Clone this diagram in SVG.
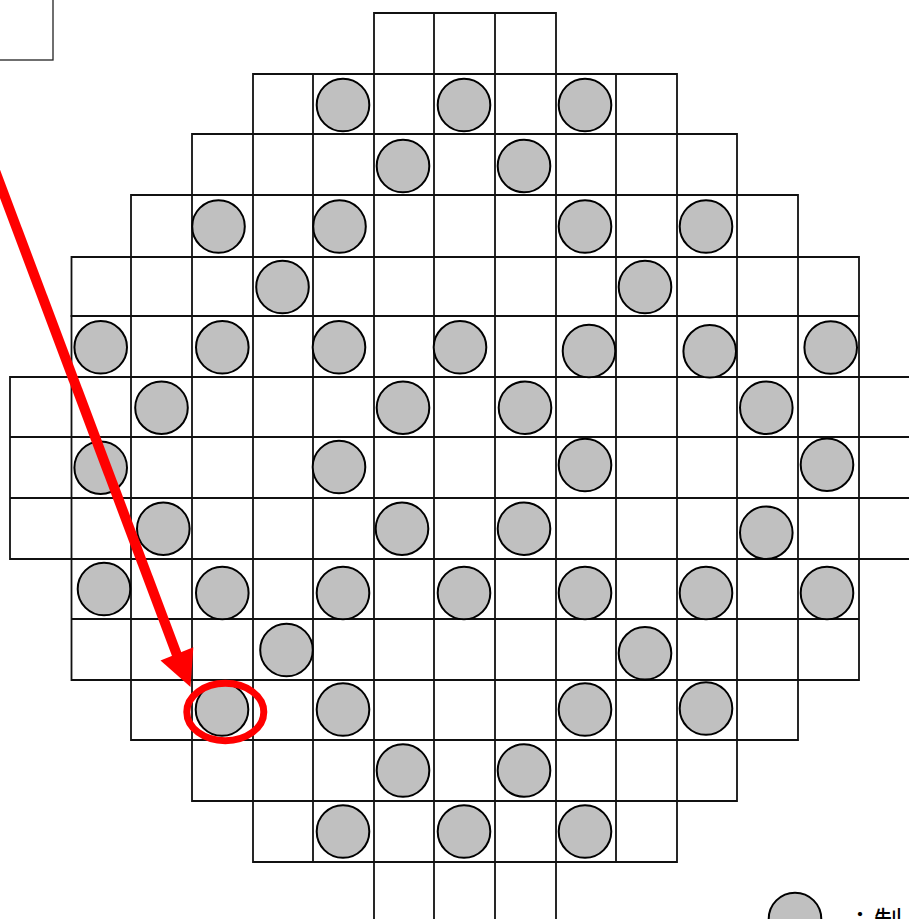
<svg xmlns="http://www.w3.org/2000/svg" width="909" height="919" viewBox="0 0 909 919">
<style>
.g{fill:none;stroke:#111;stroke-width:1.8}
.c{fill:#c0c0c0;stroke:#000;stroke-width:2}
.box{fill:none;stroke:#222;stroke-width:1.3}
.red{fill:none;stroke:#ff0000}
.t{font-family:"Noto Sans CJK JP","Liberation Serif",serif;font-size:28px;fill:#000}
</style>
<rect width="909" height="919" fill="#fff"/>
<g id="label-box"><rect class="box" x="-10" y="-10" width="63" height="70"/></g>
<g id="grid">
<path class="g" d="M374 13H556V74H374Z M434 13V74 M495 13V74"/>
<path class="g" d="M253 74H677V134H253Z M313 74V134 M374 74V134 M434 74V134 M495 74V134 M556 74V134 M616 74V134"/>
<path class="g" d="M192 134H737V195H192Z M253 134V195 M313 134V195 M374 134V195 M434 134V195 M495 134V195 M556 134V195 M616 134V195 M677 134V195"/>
<path class="g" d="M131 195H798V257H131Z M192 195V257 M253 195V257 M313 195V257 M374 195V257 M434 195V257 M495 195V257 M556 195V257 M616 195V257 M677 195V257 M737 195V257"/>
<path class="g" d="M71.5 257H859V316H71.5Z M131 257V316 M192 257V316 M253 257V316 M313 257V316 M374 257V316 M434 257V316 M495 257V316 M556 257V316 M616 257V316 M677 257V316 M737 257V316 M798 257V316"/>
<path class="g" d="M71.5 316H859V377H71.5Z M131 316V377 M192 316V377 M253 316V377 M313 316V377 M374 316V377 M434 316V377 M495 316V377 M556 316V377 M616 316V377 M677 316V377 M737 316V377 M798 316V377"/>
<path class="g" d="M10 377H930V559H10Z M10 437H930 M10 498H930 M71.5 377V559 M131 377V559 M192 377V559 M253 377V559 M313 377V559 M374 377V559 M434 377V559 M495 377V559 M556 377V559 M616 377V559 M677 377V559 M737 377V559 M798 377V559 M859 377V559"/>
<path class="g" d="M71.5 559H859V680H71.5Z M71.5 619H859 M131 559V680 M192 559V680 M253 559V680 M313 559V680 M374 559V680 M434 559V680 M495 559V680 M556 559V680 M616 559V680 M677 559V680 M737 559V680 M798 559V680"/>
<path class="g" d="M131 680H798V740H131Z M192 680V740 M253 680V740 M313 680V740 M374 680V740 M434 680V740 M495 680V740 M556 680V740 M616 680V740 M677 680V740 M737 680V740"/>
<path class="g" d="M192 740H737V801H192Z M253 740V801 M313 740V801 M374 740V801 M434 740V801 M495 740V801 M556 740V801 M616 740V801 M677 740V801"/>
<path class="g" d="M253 801H677V862H253Z M313 801V862 M374 801V862 M434 801V862 M495 801V862 M556 801V862 M616 801V862"/>
<path class="g" d="M374 862V930 M434 862V930 M495 862V930 M556 862V930"/>
</g>
<g id="rods">
<circle class="c" cx="343" cy="105" r="26.3"/><circle class="c" cx="464" cy="105" r="26.3"/><circle class="c" cx="585" cy="105" r="26.3"/>
<circle class="c" cx="403" cy="166" r="26.3"/><circle class="c" cx="524" cy="166" r="26.3"/>
<circle class="c" cx="218.5" cy="226.5" r="26.3"/><circle class="c" cx="339.5" cy="226.5" r="26.3"/><circle class="c" cx="585" cy="226.5" r="26.3"/><circle class="c" cx="706" cy="226.5" r="26.3"/>
<circle class="c" cx="282.5" cy="287" r="26.3"/><circle class="c" cx="645" cy="287" r="26.3"/>
<circle class="c" cx="100.7" cy="347.3" r="26.3"/><circle class="c" cx="222.3" cy="347.3" r="26.3"/><circle class="c" cx="339" cy="347.3" r="26.3"/><circle class="c" cx="460" cy="347.3" r="26.3"/><circle class="c" cx="589" cy="351" r="26.3"/><circle class="c" cx="709.7" cy="351.3" r="26.3"/><circle class="c" cx="830.7" cy="347.5" r="26.3"/>
<circle class="c" cx="161.5" cy="407.7" r="26.3"/><circle class="c" cx="403" cy="407.7" r="26.3"/><circle class="c" cx="525" cy="407.7" r="26.3"/><circle class="c" cx="766.3" cy="407.7" r="26.3"/>
<circle class="c" cx="100.7" cy="467.7" r="26.3"/><circle class="c" cx="339" cy="467" r="26.3"/><circle class="c" cx="585" cy="465" r="26.3"/><circle class="c" cx="827" cy="464.7" r="26.3"/>
<circle class="c" cx="163.3" cy="528.7" r="26.3"/><circle class="c" cx="402" cy="528.7" r="26.3"/><circle class="c" cx="524" cy="528.7" r="26.3"/><circle class="c" cx="766.3" cy="532.7" r="26.3"/>
<circle class="c" cx="104" cy="589" r="26.3"/><circle class="c" cx="222.3" cy="593" r="26.3"/><circle class="c" cx="343" cy="593" r="26.3"/><circle class="c" cx="464" cy="593" r="26.3"/><circle class="c" cx="585" cy="593" r="26.3"/><circle class="c" cx="706" cy="593" r="26.3"/><circle class="c" cx="827" cy="593" r="26.3"/>
<circle class="c" cx="286.5" cy="650" r="26.3"/><circle class="c" cx="645" cy="653.3" r="26.3"/>
<circle class="c" cx="222" cy="709.5" r="26.3"/><circle class="c" cx="343" cy="709.5" r="26.3"/><circle class="c" cx="585" cy="709.5" r="26.3"/><circle class="c" cx="706" cy="708.5" r="26.3"/>
<circle class="c" cx="403" cy="770.5" r="26.3"/><circle class="c" cx="524" cy="770.5" r="26.3"/>
<circle class="c" cx="343" cy="831.5" r="26.3"/><circle class="c" cx="464" cy="831.5" r="26.3"/><circle class="c" cx="585" cy="831.5" r="26.3"/>
</g>
<g id="connectors">
<line class="red" x1="-30" y1="104" x2="177" y2="655" stroke-width="10"/>
<polygon points="160.5,660.5 193.3,647.3 190.5,687" fill="#ff0000"/>
<ellipse class="red" cx="225.3" cy="712" rx="38.5" ry="28.7" stroke-width="7"/>
</g>
<g id="legend">
<circle class="c" cx="795" cy="919" r="26.3"/>
<text class="t" x="846" y="932">：制</text>
</g>
</svg>
